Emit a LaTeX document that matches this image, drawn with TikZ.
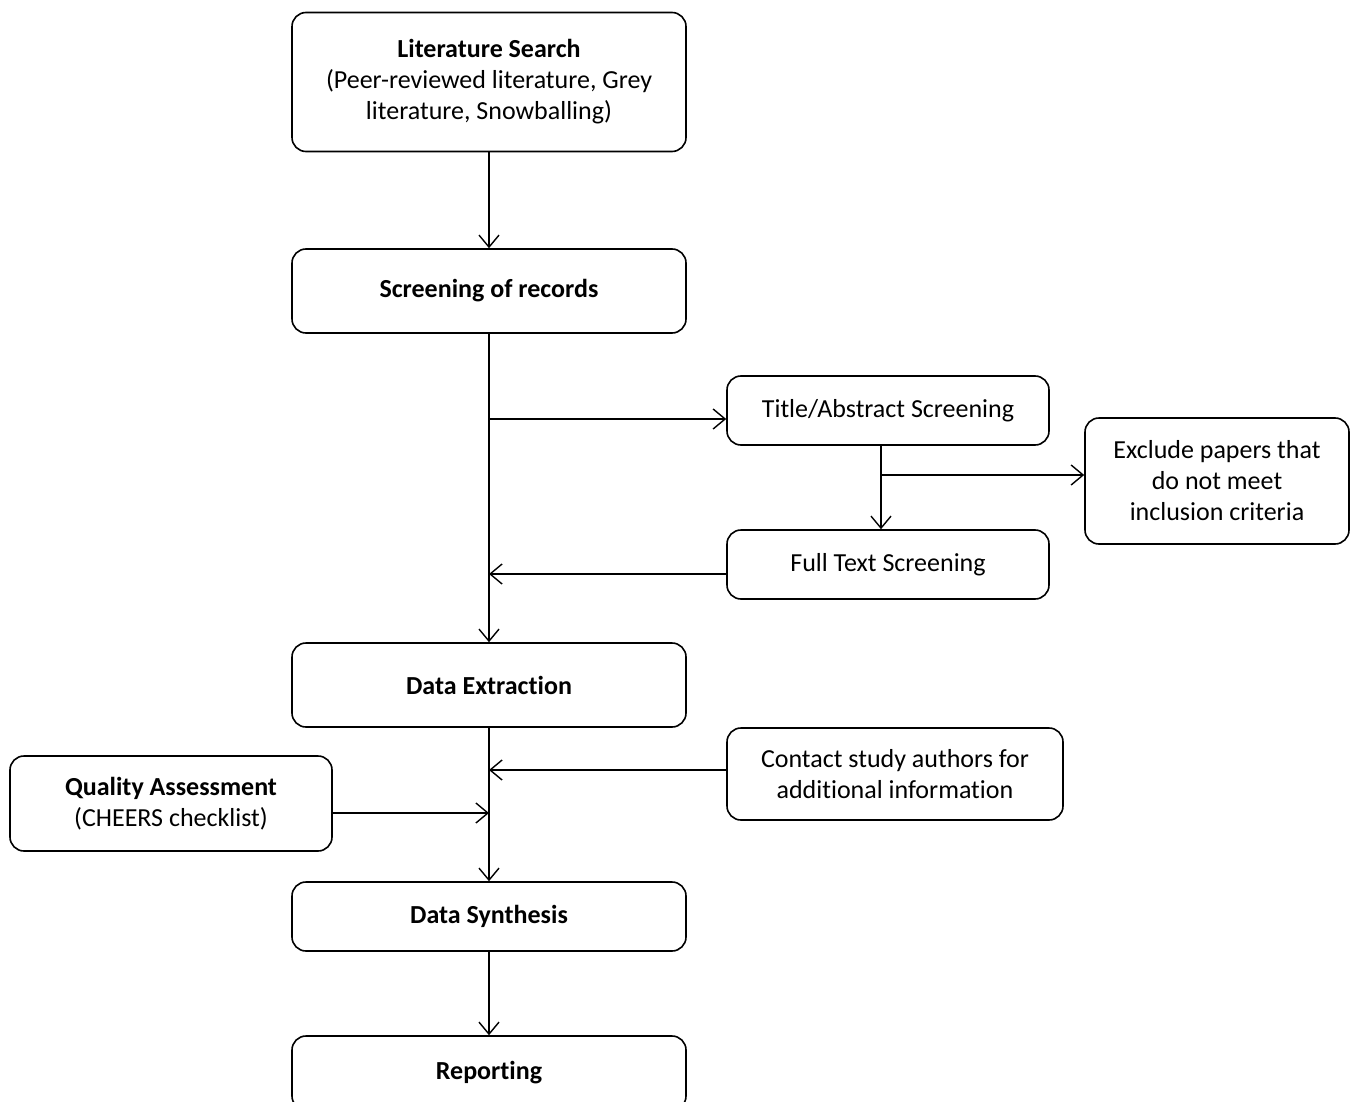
\documentclass[tikz,border=0pt]{standalone}
\usepackage{fontspec}
\setmainfont[Ligatures=NoCommon]{Carlito}
\usetikzlibrary{arrows.meta}

\tikzset{
  stage/.style={draw, rounded corners=14pt, line width=1.6pt, align=center,
    font=\fontsize{26}{31}\selectfont, inner sep=0pt},
  flow/.style={-{Straight Barb[length=12pt,width=20pt,line width=1.4pt]}, line width=1.6pt},
}

\begin{document}
\begin{tikzpicture}[x=1pt,y=-1pt]
        \useasboundingbox (0,0) rectangle (1354,1102);

        % Main column
        \node[stage, minimum width=394pt, minimum height=139pt] (lit) at (489,82)
            {\textbf{Literature Search}\\(Peer-reviewed literature, Grey\\literature, Snowballing)};
        \node[stage, minimum width=394pt, minimum height=84pt] (screen) at (489,291)
            {\textbf{Screening of records}};
        \node[stage, minimum width=394pt, minimum height=84pt] (extract) at (489,685)
            {\textbf{Data Extraction}};
        \node[stage, minimum width=394pt, minimum height=69pt] (synth) at (489,916.5)
            {\textbf{Data Synthesis}};
        \node[stage, minimum width=394pt, minimum height=74pt] (report) at (489,1073)
            {\textbf{Reporting}};

        % Screening steps
        \node[stage, minimum width=322pt, minimum height=69pt] (title) at (888,410.5)
            {Title/Abstract Screening};
        \node[stage, minimum width=322pt, minimum height=69pt] (full) at (888,564.5)
            {Full Text Screening};
        \node[stage, minimum width=264pt, minimum height=126pt] (excl) at (1217,481)
            {Exclude papers that\\do not meet\\inclusion criteria};

        % Side inputs
        \node[stage, minimum width=336pt, minimum height=92pt] (contact) at (895,774)
            {Contact study authors for\\additional information};
        \node[stage, minimum width=322pt, minimum height=95pt] (quality) at (171,803.5)
            {\textbf{Quality Assessment}\\(CHEERS checklist)};

        % Branch points
        \coordinate (b1) at (489,419);
        \coordinate (b2) at (881,475);
        \coordinate (b3) at (489,574);
        \coordinate (b4) at (489,770);
        \coordinate (b5) at (489,813);

        % Connectors
        \draw[flow] (lit) -- (screen);
        \draw[flow] (screen) -- (extract);
        \draw[flow] (b1) -- (b1 -| title.west);
        \draw[flow] (title.south -| b2) -- (full.north -| b2);
        \draw[flow] (b2) -- (b2 -| excl.west);
        \draw[flow] (full.west |- b3) -- (b3);
        \draw[flow] (extract) -- (synth);
        \draw[flow] (contact.west |- b4) -- (b4);
        \draw[flow] (quality.east |- b5) -- (b5);
        \draw[flow] (synth) -- (report);
\end{tikzpicture}
\end{document}
